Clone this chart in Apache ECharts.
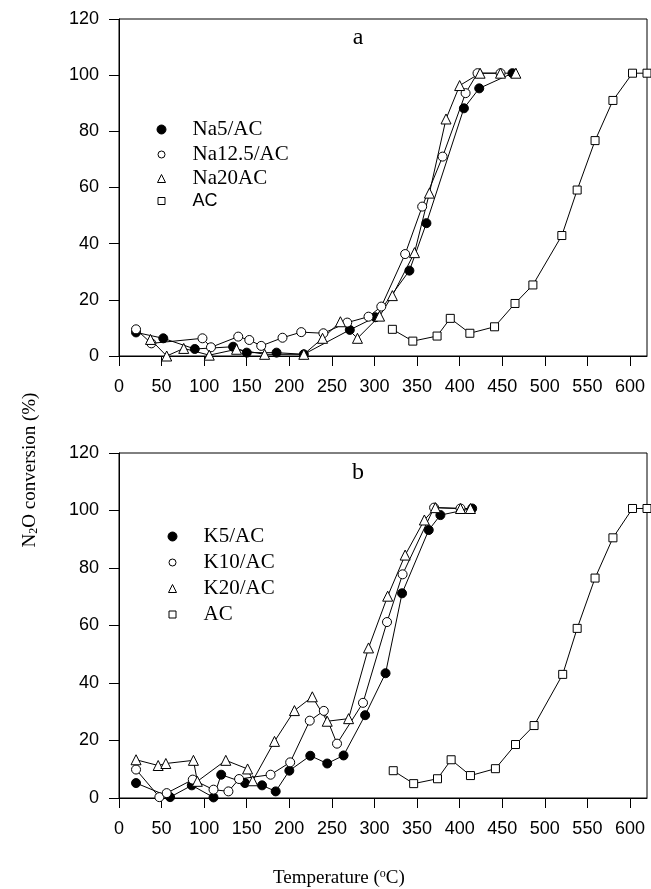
<!DOCTYPE html>
<html><head><meta charset="utf-8">
<script src="https://cdn.jsdelivr.net/npm/echarts@6/dist/echarts.min.js"></script>
<style>html,body{margin:0;padding:0;background:#fff}#c{width:651px;height:889px}</style>
</head><body><div id="c"></div>
<script>
// ---- tick labels ----
const xTickValues = [0,50,100,150,200,250,300,350,400,450,500,550,600];
const yTickValues = [0,20,40,60,80,100,120];

// ---- panel a ----
const na5T  = [20, 52, 89, 134, 150, 185, 217, 271, 301, 341, 361, 405, 423, 462];
const na5C  = [8.4, 6.3, 2.5, 3.3, 1.2, 1.2, 0.6, 9.3, 13.8, 30.4, 47.3, 88.2, 95.3, 100.7];
const na125T = [20, 38, 98, 108, 140, 153, 167, 192, 214, 240, 268, 293, 308, 336, 356, 380, 407, 421, 448];
const na125C = [9.5, 4.5, 6.3, 3.1, 6.9, 5.7, 3.6, 6.5, 8.5, 8.1, 11.9, 14, 17.6, 36.3, 53.2, 71, 93.6, 100.7, 100.7];
const na20T = [37, 56, 76, 106, 138, 171, 217, 239, 260, 280, 306, 321, 347, 364.5, 384, 400, 424, 448, 466];
const na20C = [5.9, 0, 2.7, 0.3, 2.4, 0.6, 0.6, 6.3, 12.2, 6.3, 14.2, 21.5, 36.8, 58, 84.4, 96.3, 100.7, 100.7, 100.7];
const acAT  = [321, 345, 373.5, 389, 412, 441, 465, 486, 520, 538, 559, 580, 603, 620];
const acAC  = [9.5, 5.3, 7.1, 13.4, 8.1, 10.4, 18.7, 25.3, 42.9, 59.1, 76.7, 91, 100.7, 100.7];

// ---- panel b ----
const k5T  = [20, 60, 85.5, 111, 120, 148, 168, 184, 200, 224.6, 244.5, 263.7, 289, 313, 332.4, 363.7, 377.4, 414.7];
const k5C  = [5.2, 0.3, 4.4, 0.2, 8.1, 5.2, 4.4, 2.3, 9.5, 14.7, 12, 14.8, 28.8, 43.4, 71.2, 93.2, 98.4, 100.7];
const k10T = [20, 47.4, 56, 86.6, 111, 128.5, 141, 178, 201, 224, 240.5, 256, 286.5, 314.7, 333, 370, 401];
const k10C = [9.9, 0.3, 1.7, 6.4, 2.9, 2.3, 6.6, 8.1, 12.4, 26.9, 30.3, 18.9, 33.1, 61.2, 77.8, 101, 100.7];
const k20T = [20, 46, 55, 87.4, 92, 125.4, 151, 157, 182.6, 206, 227, 244.5, 269.6, 293, 315.5, 336, 358.6, 371.5, 401, 412.7];
const k20C = [13.3, 11.3, 12, 13.1, 5.8, 13.1, 10.1, 6, 19.7, 30.4, 35.2, 26.7, 27.6, 52.2, 70.2, 84.5, 96.7, 101, 100.7, 100.7];
const acBT = [322, 346, 374, 390, 412.7, 442, 465.6, 487.4, 521, 538, 559, 580, 603, 620];
const acBC = [9.5, 5, 6.7, 13.3, 7.8, 10.2, 18.6, 25.2, 43, 59, 76.5, 90.5, 100.7, 100.7];

const SERIF = '"Liberation Serif", "Times New Roman", serif';
const SANS = '"Liberation Sans", Arial, sans-serif';

function pairs(t, c) { return t.map((v, i) => [v, c[i]]); }

const styles = {
  filled: { symbol: 'circle', symbolSize: 9, itemStyle: { color: '#000', borderColor: '#000', borderWidth: 1 } },
  open:   { symbol: 'circle', symbolSize: 9, itemStyle: { color: '#fff', borderColor: '#000', borderWidth: 1 } },
  tri:    { symbol: 'triangle', symbolSize: 10, itemStyle: { color: '#fff', borderColor: '#000', borderWidth: 1 } },
  sq:     { symbol: 'rect', symbolSize: 8, itemStyle: { color: '#fff', borderColor: '#000', borderWidth: 1 } }
};

function mkSeries(name, t, c, st, idx) {
  return Object.assign({
    type: 'line', name: name, xAxisIndex: idx, yAxisIndex: idx,
    data: pairs(t, c), showSymbol: true, animation: false,
    lineStyle: { color: '#000', width: 1 }, emphasis: { disabled: true }
  }, JSON.parse(JSON.stringify(st)));
}

function xAx(idx) {
  return {
    type: 'value', gridIndex: idx, min: 0, max: 620,
    axisLine: { show: true, onZero: false, lineStyle: { color: '#000', width: 1 } },
    axisTick: { show: true, inside: false, length: 10, customValues: xTickValues, lineStyle: { color: '#000' } },
    axisLabel: { customValues: xTickValues, color: '#000', fontSize: 18, fontFamily: SANS, margin: 22 },
    splitLine: { show: false }
  };
}
function yAx(idx) {
  return {
    type: 'value', gridIndex: idx, min: 0, max: 120, interval: 20,
    axisLine: { show: true, onZero: false, lineStyle: { color: '#000', width: 1 } },
    axisTick: { show: true, inside: false, length: 10, lineStyle: { color: '#000' } },
    axisLabel: { color: '#000', fontSize: 18, fontFamily: SANS, margin: 20 },
    splitLine: { show: false }
  };
}

function legItem(name, icon, size, cx, cy, textLeft, font, fs, st) {
  return {
    data: [{ name: name, icon: icon, itemStyle: st.itemStyle }],
    left: cx - size / 2, top: cy - 12, padding: 0,
    itemWidth: size, itemHeight: size, selectedMode: false,
    textStyle: { color: '#000', fontFamily: font, fontSize: fs, padding: [0, 0, 0, textLeft - (cx + size / 2) - 5] }
  };
}

const chart = echarts.init(document.getElementById('c'), null, { renderer: 'canvas' });
chart.setOption({
  animation: false,
  backgroundColor: '#fff',
  grid: [
    { left: 119, top: 19, width: 528, height: 337, show: true, borderColor: '#000', borderWidth: 1, backgroundColor: 'transparent' },
    { left: 119, top: 453, width: 528, height: 345, show: true, borderColor: '#000', borderWidth: 1, backgroundColor: 'transparent' }
  ],
  xAxis: [xAx(0), xAx(1)],
  yAxis: [yAx(0), yAx(1)],
  legend: [
    legItem('Na5/AC', 'circle', 9, 161, 131, 192, SERIF, 21, styles.filled),
    legItem('Na12.5/AC', 'circle', 7, 161, 156, 192, SERIF, 21, styles.open),
    legItem('Na20AC', 'triangle', 8, 161, 180, 192, SERIF, 21, styles.tri),
    legItem('AC', 'rect', 7, 161, 204, 192, SANS, 18, styles.sq),
    legItem('K5/AC', 'circle', 9, 172, 538, 203, SERIF, 21, styles.filled),
    legItem('K10/AC', 'circle', 7, 172, 564, 203, SERIF, 21, styles.open),
    legItem('K20/AC', 'triangle', 8, 172, 590, 203, SERIF, 21, styles.tri),
    legItem('AC', 'rect', 7, 172, 616, 203, SERIF, 21, styles.sq)
  ],
  series: [
    mkSeries('Na5/AC', na5T, na5C, styles.filled, 0),
    mkSeries('Na12.5/AC', na125T, na125C, styles.open, 0),
    mkSeries('Na20AC', na20T, na20C, styles.tri, 0),
    mkSeries('AC', acAT, acAC, styles.sq, 0),
    mkSeries('K5/AC', k5T, k5C, styles.filled, 1),
    mkSeries('K10/AC', k10T, k10C, styles.open, 1),
    mkSeries('K20/AC', k20T, k20C, styles.tri, 1),
    mkSeries('AC', acBT, acBC, styles.sq, 1)
  ],
  graphic: [
    { type: 'text', x: 358, y: 38, style: { text: 'a', fontFamily: SERIF, fontSize: 24, fill: '#000', align: 'center', verticalAlign: 'middle' } },
    { type: 'text', x: 358, y: 473, style: { text: 'b', fontFamily: SERIF, fontSize: 24, fill: '#000', align: 'center', verticalAlign: 'middle' } },
    { type: 'text', x: 273, y: 878, style: {
        text: 'Temperature ({sup|o}C)', fontFamily: SERIF, fontSize: 19, fill: '#000', align: 'left', verticalAlign: 'middle',
        rich: { sup: { fontSize: 12, fontFamily: SERIF, verticalAlign: 'top', padding: [0, 0, 8, 0] } } } },
    { type: 'text', x: 30, y: 470, rotation: Math.PI / 2, style: {
        text: 'N{sub|2}O conversion (%)', fontFamily: SERIF, fontSize: 19, fill: '#000', align: 'center', verticalAlign: 'middle',
        rich: { sub: { fontSize: 12, fontFamily: SERIF, verticalAlign: 'bottom', padding: [8, 0, 0, 0] } } } }
  ]
});
</script></body></html>
